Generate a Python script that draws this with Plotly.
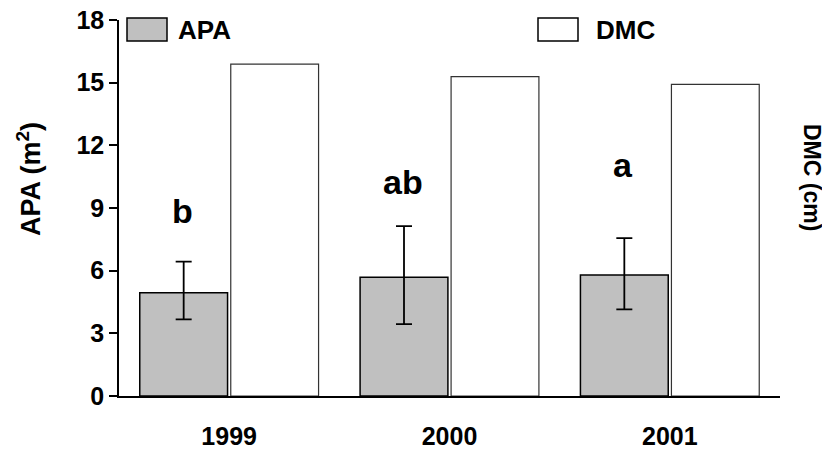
import plotly.graph_objects as go

years = ["1999", "2000", "2001"]
apa = [4.94, 5.68, 5.79]
apa_err_plus = [1.49, 2.45, 1.77]
apa_err_minus = [1.27, 2.24, 1.64]
dmc = [15.89, 15.29, 14.92]
letters = ["b", "ab", "a"]
letter_y = [8.85, 10.25, 11.05]
y_ticks = [0, 3, 6, 9, 12, 15, 18]

FONT = "Liberation Sans, Arial, sans-serif"

fig = go.Figure()
fig.add_trace(go.Bar(
    x=years, y=apa, name="APA", offsetgroup="1", yaxis="y",
    marker=dict(color="#c0c0c0", line=dict(color="#000000", width=1.5)),
    error_y=dict(type="data", symmetric=False, array=apa_err_plus,
                 arrayminus=apa_err_minus, color="#000000", thickness=1.8, width=8),
    showlegend=False,
))
fig.add_trace(go.Bar(
    x=years, y=dmc, name="DMC", offsetgroup="2", yaxis="y2",
    marker=dict(color="#ffffff", line=dict(color="#333333", width=1.2)),
    showlegend=False,
))

for i, (lt, ly) in enumerate(zip(letters, letter_y)):
    fig.add_annotation(x=i, y=ly, xref="x", yref="y", text=lt, showarrow=False,
                       xshift=-47, yanchor="middle",
                       font=dict(family=FONT, size=34, color="#000000", weight="bold"))

# legend (drawn manually to match large swatches)
fig.add_shape(type="rect", xref="paper", yref="paper", x0=(127-119)/661, x1=(167-119)/661,
              y0=(396-41)/376, y1=(396-18)/376, fillcolor="#c0c0c0",
              line=dict(color="#000000", width=1.5))
fig.add_shape(type="rect", xref="paper", yref="paper", x0=(538-119)/661, x1=(578-119)/661,
              y0=(396-41)/376, y1=(396-18)/376, fillcolor="#ffffff",
              line=dict(color="#000000", width=1.5))
fig.add_annotation(xref="paper", yref="paper", x=(176-119)/661, y=(396-30)/376,
                   xanchor="left", yanchor="middle", text="APA", showarrow=False,
                   font=dict(family=FONT, size=26, color="#000000", weight="bold"))
fig.add_annotation(xref="paper", yref="paper", x=(594-119)/661, y=(396-30)/376,
                   xanchor="left", yanchor="middle", text="DMC", showarrow=False,
                   font=dict(family=FONT, size=26, color="#000000", weight="bold"))

# axis titles
fig.add_annotation(xref="paper", yref="paper", x=(29-119)/661, y=(396-179)/376,
                   xanchor="center", yanchor="middle", text="APA (m<sup>2</sup>)",
                   textangle=-90, showarrow=False,
                   font=dict(family=FONT, size=27, color="#000000", weight="bold"))
fig.add_annotation(xref="paper", yref="paper", x=(812-119)/661, y=(396-177)/376,
                   xanchor="center", yanchor="middle", text="DMC (cm)",
                   textangle=90, showarrow=False,
                   font=dict(family=FONT, size=23, color="#000000", weight="bold"))

# page body has an 8px margin: the figure is shifted by (8, 8)
fig.update_layout(
    width=822, height=442,
    margin=dict(l=111, r=50, t=12, b=54, autoexpand=False),
    paper_bgcolor="#ffffff", plot_bgcolor="#ffffff",
    barmode="group", bargap=0.174, bargroupgap=0.035,
    xaxis=dict(
        type="category", range=[-0.5, 2.5], showline=True, linecolor="#000000",
        linewidth=1.5, ticks="", showgrid=False, zeroline=False, automargin=False,
        tickfont=dict(family=FONT, size=25, color="#000000", weight="bold"),
        ticklabelstandoff=17,
    ),
    yaxis=dict(
        range=[0, 18], tickvals=y_ticks, ticktext=[str(v) for v in y_ticks],
        showline=True, linecolor="#000000", linewidth=1.5, ticks="outside",
        ticklen=8, tickwidth=1.5, tickcolor="#000000", showgrid=False, zeroline=False,
        automargin=False, ticklabeloverflow="allow",
        tickfont=dict(family=FONT, size=25, color="#000000", weight="bold"),
    ),
    yaxis2=dict(
        range=[0, 18], overlaying="y", side="right", showticklabels=False,
        showline=False, ticks="", showgrid=False, zeroline=False, automargin=False,
    ),
)

fig.write_html("out.html")
